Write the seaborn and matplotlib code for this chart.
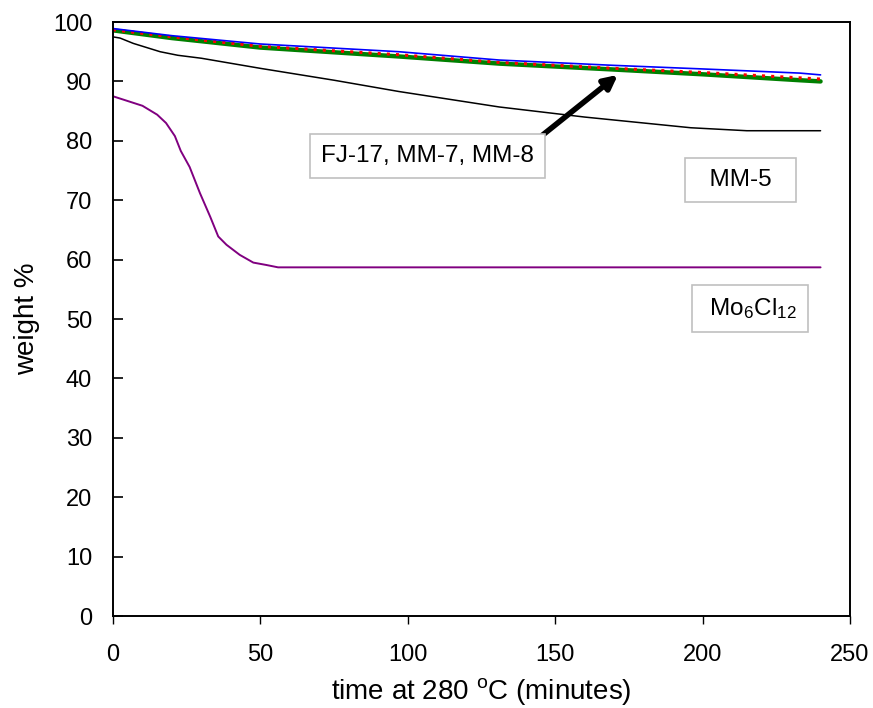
import matplotlib
matplotlib.use("Agg")
import matplotlib.pyplot as plt
import seaborn as sns

# ==========================================================
# DATA
# ==========================================================

time_top = [0, 20, 50, 97, 131, 170, 200, 233, 240]
weight_fj17 = [98.9, 97.7, 96.3, 95.0, 93.6, 92.7, 92.1, 91.4, 91.1]
weight_mm7 = [98.7, 97.5, 95.9, 94.5, 93.2, 92.2, 91.5, 90.6, 90.4]
weight_mm8 = [98.6, 97.3, 95.7, 94.2, 93.0, 92.0, 91.2, 90.2, 90.0]

time_mm5 = [0, 2.4, 6.9, 16, 22, 30, 50, 75, 97, 131, 160, 196, 215, 240]
weight_mm5 = [97.5, 97.3, 96.4, 95.0, 94.4, 93.9, 92.2, 90.2, 88.3, 85.7, 84.0, 82.2, 81.7, 81.7]

time_mo = [0, 5, 10, 15, 18, 21, 23, 26, 29.5, 33, 35.7, 38.5, 43, 47.6, 52, 56, 240]
weight_mo = [87.5, 86.7, 85.9, 84.4, 83.0, 80.8, 78.3, 75.6, 71.2, 67.2, 63.9, 62.5,
             60.8, 59.5, 59.1, 58.7, 58.7]

# ==========================================================
# STYLE
# ==========================================================

sns.set_style("white")
plt.rcParams["font.family"] = ["Liberation Sans", "DejaVu Sans"]
plt.rcParams["mathtext.fontset"] = "custom"
plt.rcParams["mathtext.rm"] = "Liberation Sans"
plt.rcParams["mathtext.it"] = "Liberation Sans"
plt.rcParams["text.color"] = "black"
plt.rcParams["axes.labelcolor"] = "black"
plt.rcParams["xtick.color"] = "black"
plt.rcParams["ytick.color"] = "black"

fig = plt.figure(figsize=(8.73, 7.08), dpi=100)
ax = fig.add_axes([0.1294, 0.1299, 0.8443, 0.8390])

# ==========================================================
# CURVES
# ==========================================================

sns.lineplot(x=time_mo, y=weight_mo, color="#800080", linewidth=1.4, ax=ax)
sns.lineplot(x=time_mm5, y=weight_mm5, color="black", linewidth=1.1, ax=ax)
sns.lineplot(x=time_top, y=weight_mm8, color="#008000", linewidth=3.2, ax=ax)
sns.lineplot(x=time_top, y=weight_mm7, color="red", linewidth=2.2,
             linestyle=(0, (1, 2)), ax=ax)
sns.lineplot(x=time_top, y=weight_fj17, color="blue", linewidth=1.2, ax=ax)

# ==========================================================
# AXES
# ==========================================================

ax.set_xlim(0, 250)
ax.set_ylim(0, 100)
ax.set_xticks(range(0, 251, 50))
ax.set_yticks(range(0, 101, 10))

for side in ["left", "bottom", "top", "right"]:
    ax.spines[side].set_visible(True)
    ax.spines[side].set_color("black")
    ax.spines[side].set_linewidth(1.4)

ax.tick_params(axis="y", direction="in", length=7, width=1.2, left=True,
               labelsize=17, pad=15)
ax.tick_params(axis="x", direction="out", length=6, width=1.0, bottom=True,
               labelsize=17, pad=14)

ax.set_xlabel("time at 280 $^{\\mathrm{o}}$C (minutes)", fontsize=20, labelpad=7)
ax.set_ylabel("weight %", fontsize=20, labelpad=9)

# ==========================================================
# LABELS
# ==========================================================

def label_box():
    return dict(boxstyle="square,pad=0.45", facecolor="white", edgecolor="#c0c0c0",
                linewidth=1.2)

ax.annotate("", xy=(172, 91.4), xytext=(144.8, 80.6),
            arrowprops=dict(arrowstyle="-|>,head_length=0.8,head_width=0.4",
                            color="black", linewidth=4))

ax.text(106.8, 77.4, "FJ-17, MM-7, MM-8", fontsize=17.5, ha="center", va="center",
        bbox=label_box())
ax.text(212.7, 73.4, "  MM-5  ", fontsize=17.5, ha="center", va="center",
        bbox=label_box())
ax.text(216, 51.8, " Mo$_{6}$Cl$_{12}$", fontsize=17.5, ha="center", va="center",
        bbox=label_box())

fig.savefig("out.png", dpi=100)
